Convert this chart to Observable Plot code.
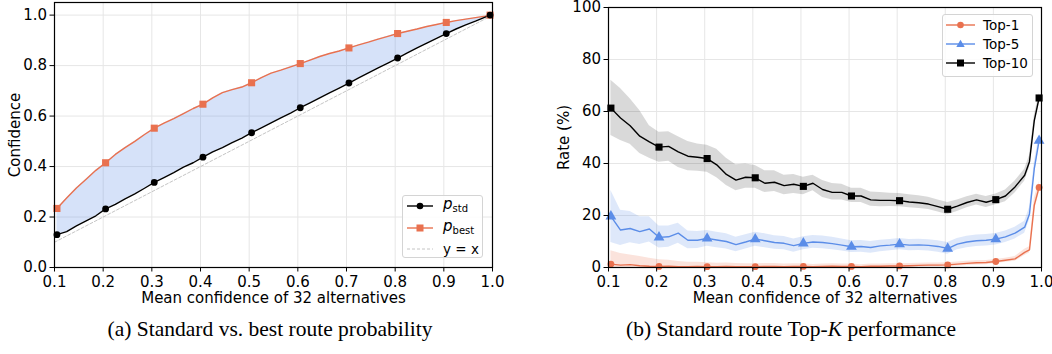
<!DOCTYPE html>
<html><head><meta charset="utf-8">
<script src="https://cdn.jsdelivr.net/npm/d3@7"></script>
<script src="https://cdn.jsdelivr.net/npm/@observablehq/plot@0.6"></script>
<style>
body{margin:0;background:#fff;width:1052px;height:354px;overflow:hidden;font-family:"DejaVu Sans",sans-serif;}
#wrap{position:relative;width:1052px;height:354px;}
#left{position:absolute;left:0;top:0;}
#right{position:absolute;left:526px;top:0;}
.cap{position:absolute;top:317px;font-family:"Liberation Serif","Times New Roman",serif;font-size:21.5px;line-height:24px;color:#000;text-align:center;white-space:nowrap;}
.legend{position:absolute;box-sizing:border-box;background:rgba(255,255,255,0.85);border:1px solid #d4d4d4;border-radius:3px;font-size:13.5px;color:#000;}
.row{position:absolute;height:18px;display:flex;align-items:center;white-space:nowrap;}
.row span{line-height:18px;}
</style></head>
<body>
<div id="wrap">
  <div id="left"></div>
  <div id="right"></div>
  <div class="cap" style="left:0;width:540px;">(a) Standard vs. best route probability</div>
  <div class="cap" style="left:526px;width:530px;">(b) Standard route Top-<i>K</i> performance</div>
</div>
<script>
// ---------- data ----------
const xs = [0.105,0.125,0.145,0.165,0.185,0.205,0.225,0.245,0.265,0.285,0.305,0.325,0.345,0.365,0.385,0.405,0.425,0.445,0.465,0.485,0.505,0.525,0.545,0.565,0.585,0.605,0.625,0.645,0.665,0.685,0.705,0.725,0.745,0.765,0.785,0.805,0.825,0.845,0.865,0.885,0.905,0.925,0.945,0.965,0.975,0.985,0.995];
const markAt = [0.105,0.205,0.305,0.405,0.505,0.605,0.705,0.805,0.905,0.995];

const pStd = [0.130,0.142,0.165,0.185,0.205,0.232,0.250,0.272,0.292,0.314,0.337,0.356,0.376,0.398,0.415,0.437,0.458,0.475,0.495,0.513,0.534,0.553,0.573,0.593,0.612,0.633,0.652,0.672,0.692,0.711,0.731,0.751,0.771,0.791,0.810,0.830,0.850,0.870,0.889,0.908,0.927,0.945,0.961,0.976,0.984,0.992,1.000];
const pBest = [0.234,0.275,0.315,0.350,0.385,0.415,0.448,0.475,0.500,0.527,0.552,0.572,0.590,0.610,0.630,0.647,0.672,0.693,0.705,0.715,0.732,0.752,0.770,0.782,0.795,0.808,0.822,0.836,0.848,0.858,0.870,0.882,0.893,0.905,0.916,0.927,0.936,0.945,0.955,0.963,0.971,0.978,0.984,0.990,0.993,0.996,1.000];
const diag = [0.1, 1.0];

const top10 = [61.3,57.5,54.5,50.5,48.3,46.3,46.6,44.5,42.8,42.4,41.9,39.5,35.8,33.6,34.7,34.5,32.4,32.8,31.5,32.0,31.2,32.4,30.0,28.9,28.9,27.5,27.5,26.0,25.8,25.8,25.7,25.2,24.9,24.4,23.4,22.4,23.6,25.0,26.0,25.1,26.1,27.5,31.0,35.5,40.7,56.5,65.2];
const top10Hi = [72,68.8,64.9,60.4,54.5,52,52.2,50.3,48.5,47.5,47,45.5,42,39.5,39.8,39.2,37.2,37.2,35.5,35.8,34.7,35.5,33.5,32.3,32,30.5,30.5,29,28.8,28.6,28.5,28,27.6,27,26,25,26,27.2,28.2,27.3,28.3,29.8,33.3,37.8,43,58.5,67];
const top10Lo = [50.8,48.8,47.4,43.8,42,40.5,40.9,38.5,37.2,37,36.6,34.5,31.5,29.5,30.5,30.5,28.8,29.2,28,28.5,28,29.5,26.9,26,26,25,25,23.6,23.4,23.5,23.4,23,22.7,22.3,21.3,20.3,21.5,23,24,23.1,24.1,25.3,28.7,33.2,38.4,54.5,63.4];

const top5 = [19.7,14.4,15.0,13.8,14.8,11.6,11.8,13.2,10.5,10.5,11.2,10.6,10.0,8.8,9.8,10.9,10.3,9.6,9.3,8.4,9.3,9.8,9.6,9.2,8.6,8.0,8.1,7.7,8.3,8.6,9.0,8.6,8.7,8.5,8.1,7.3,9.0,9.8,10.3,10.5,10.9,11.8,13.2,15.5,20.6,38,48.8];
const top5Hi = [29.6,22,21.5,19.5,19.5,16,16,17,14,13.8,14.2,13.6,13,11.6,12.6,13.6,13,12.2,11.9,11,11.8,12.3,12.1,11.6,11,10.3,10.4,10,10.5,10.8,11.2,10.8,10.9,10.7,10.3,9.6,11.2,12,12.5,12.7,13.1,14,15.5,17.8,23,40.5,51];
const top5Lo = [9.6,8.5,9.5,8.8,9.8,7.5,7.8,9.3,7.2,7.3,8.2,7.6,7.1,6.1,7.1,8.2,7.6,7.0,6.8,5.9,6.8,7.4,7.2,6.8,6.3,5.8,5.9,5.5,6.1,6.4,6.8,6.4,6.5,6.3,5.9,5.1,6.8,7.6,8.1,8.3,8.7,9.6,11,13.2,18.2,35.5,46.6];

const top1 = [1.3,0.9,1.1,0.7,0.5,0.4,0.5,0.3,0.3,0.4,0.3,0.3,0.4,0.3,0.3,0.3,0.4,0.4,0.3,0.4,0.4,0.3,0.4,0.5,0.4,0.4,0.3,0.5,0.5,0.6,0.6,0.7,0.8,0.9,0.9,1.0,1.3,1.6,1.8,1.9,2.3,2.8,3.3,5.8,6.8,24,30.8];
const top1Hi = [6.4,5.4,4.8,4.2,3.6,3.0,2.8,2.3,2.0,2.0,1.8,1.6,1.7,1.5,1.4,1.4,1.5,1.5,1.3,1.4,1.4,1.2,1.3,1.4,1.3,1.3,1.1,1.3,1.3,1.4,1.4,1.5,1.6,1.7,1.7,1.8,2.1,2.4,2.6,2.7,3.1,3.6,4.2,7.0,8.0,26.5,33];
const top1Lo = [0,0,0,0,0,0,0,0,0,0,0,0,0,0,0,0,0,0,0,0,0,0,0,0,0,0,0,0,0,0,0,0,0.1,0.2,0.2,0.3,0.5,0.8,1.0,1.1,1.5,2.0,2.4,4.6,5.6,21.5,28.6];

const xTicks = [0.1,0.2,0.3,0.4,0.5,0.6,0.7,0.8,0.9,1.0];
const yTicksL = [0,0.2,0.4,0.6,0.8,1.0];
const yTicksR = [0,20,40,60,80,100];
const xLabel = "Mean confidence of 32 alternatives";

// ---------- styles ----------
const ORANGE = "#e9714f", BLUE = "#5b8de8", GRID = "#e6e6e6";

const rowsL = xs.map((x, i) => ({x, std: pStd[i], best: pBest[i]}));
const rowsR = xs.map((x, i) => ({x, t10: top10[i], t10lo: top10Lo[i], t10hi: top10Hi[i],
  t5: top5[i], t5lo: top5Lo[i], t5hi: top5Hi[i], t1: top1[i], t1lo: top1Lo[i], t1hi: top1Hi[i]}));
const isMark = d => markAt.includes(d.x);
const fmt1 = d3.format(".1f");

const common = {
  width: 526, height: 306, marginBottom: 39,
  style: {fontFamily: "'DejaVu Sans', sans-serif", fontSize: "15px", color: "#000", background: "transparent", overflow: "visible"}
};

const left = Plot.plot({
  ...common,
  marginLeft: 54, marginRight: 34, marginTop: 2,
  x: {domain: [0.1, 1.0]},
  y: {domain: [0, 1.05]},
  marks: [
    Plot.gridX(xTicks, {stroke: GRID, strokeOpacity: 1, strokeWidth: 1}),
    Plot.gridY(yTicksL, {stroke: GRID, strokeOpacity: 1, strokeWidth: 1}),
    Plot.areaY(rowsL, {x: "x", y1: "std", y2: "best", fill: BLUE, fillOpacity: 0.25}),
    Plot.line(diag, {x: d => d, y: d => d, stroke: "#bdbdbd", strokeWidth: 0.9, strokeDasharray: "3,2"}),
    Plot.line(rowsL, {x: "x", y: "best", stroke: ORANGE, strokeWidth: 1.4}),
    Plot.line(rowsL, {x: "x", y: "std", stroke: "#000", strokeWidth: 1.4}),
    Plot.dot(rowsL.filter(isMark), {x: "x", y: "best", symbol: "square", r: 4, fill: ORANGE, stroke: "none"}),
    Plot.dot(rowsL.filter(isMark), {x: "x", y: "std", symbol: "circle", r: 3.4, fill: "#000", stroke: "none"}),
    Plot.axisX({ticks: xTicks, tickFormat: fmt1, tickSize: 4.5, tickPadding: 4, label: xLabel, labelAnchor: "center", labelArrow: "none", labelOffset: 35}),
    Plot.axisY({ticks: yTicksL, tickFormat: fmt1, tickSize: 4.5, tickPadding: 3, label: "Confidence", labelAnchor: "center", labelArrow: "none", labelOffset: 45}),
    Plot.frame({stroke: "#000", strokeWidth: 1.2})
  ]
});
document.getElementById("left").append(left);

const right = Plot.plot({
  ...common,
  marginLeft: 82, marginRight: 11, marginTop: 7,
  x: {domain: [0.1, 1.0]},
  y: {domain: [0, 100]},
  marks: [
    Plot.gridX(xTicks, {stroke: GRID, strokeOpacity: 1, strokeWidth: 1}),
    Plot.gridY(yTicksR, {stroke: GRID, strokeOpacity: 1, strokeWidth: 1}),
    Plot.areaY(rowsR, {x: "x", y1: "t10lo", y2: "t10hi", fill: "#000", fillOpacity: 0.15}),
    Plot.areaY(rowsR, {x: "x", y1: "t5lo", y2: "t5hi", fill: BLUE, fillOpacity: 0.2}),
    Plot.areaY(rowsR, {x: "x", y1: "t1lo", y2: "t1hi", fill: ORANGE, fillOpacity: 0.2}),
    Plot.line(rowsR, {x: "x", y: "t1", stroke: ORANGE, strokeWidth: 1.4}),
    Plot.line(rowsR, {x: "x", y: "t5", stroke: BLUE, strokeWidth: 1.4}),
    Plot.line(rowsR, {x: "x", y: "t10", stroke: "#000", strokeWidth: 1.4}),
    Plot.dot(rowsR.filter(isMark), {x: "x", y: "t1", symbol: "circle", r: 3.4, fill: ORANGE, stroke: "none"}),
    Plot.dot(rowsR.filter(isMark), {x: "x", y: "t5", symbol: "triangle", r: 4, fill: BLUE, stroke: "none"}),
    Plot.dot(rowsR.filter(isMark), {x: "x", y: "t10", symbol: "square", r: 4, fill: "#000", stroke: "none"}),
    Plot.axisX({ticks: xTicks, tickFormat: fmt1, tickSize: 4.5, tickPadding: 4, label: xLabel, labelAnchor: "center", labelArrow: "none", labelOffset: 35}),
    Plot.axisY({ticks: yTicksR, tickFormat: d3.format("d"), tickSize: 4.5, tickPadding: 3, label: "Rate (%)", labelAnchor: "center", labelArrow: "none", labelOffset: 50}),
    Plot.frame({stroke: "#000", strokeWidth: 1.2})
  ]
});
document.getElementById("right").append(right);

// ---------- legends ----------
function symbolSvg(color, kind, w) {
  const m = w / 2;
  let mk = "";
  if (kind === "circle") mk = `<circle cx="${m}" cy="9" r="3.3" fill="${color}"/>`;
  else if (kind === "square") mk = `<rect x="${m-3.5}" y="5.5" width="7" height="7" fill="${color}"/>`;
  else if (kind === "triangle") mk = `<path d="M${m},4.8L${m+4.2},12L${m-4.2},12Z" fill="${color}"/>`;
  const dash = kind === "dash" ? ` stroke-dasharray="3,2" stroke-width="0.9"` : ` stroke-width="1.4"`;
  return `<svg width="${w}" height="18" style="display:block"><line x1="0" x2="${w}" y1="9" y2="9" stroke="${color}"${dash}/>${mk}</svg>`;
}
function legend(box, items) {
  const div = document.createElement("div");
  div.className = "legend";
  Object.assign(div.style, {left: box.left + "px", top: box.top + "px", width: box.width + "px", height: box.height + "px"});
  div.innerHTML = items.map(it => `<div class="row" style="left:${box.pad}px;top:${it.cy - 9}px">${symbolSvg(it.color, it.kind, box.lw)}<span style="margin-left:${box.gap}px">${it.label}</span></div>`).join("");
  document.getElementById("wrap").append(div);
}
const pLab = s => `<i style="font-size:15px">p</i><sub style="font-size:10px;vertical-align:-3px">${s}</sub>`;
legend({left: 402, top: 195, width: 81, height: 63, pad: 4, lw: 26, gap: 10}, [
  {cy: 10, color: "#000", kind: "circle", label: pLab("std")},
  {cy: 32, color: ORANGE, kind: "square", label: pLab("best")},
  {cy: 53, color: "#bdbdbd", kind: "dash", label: "y = x"}
]);
legend({left: 942, top: 14, width: 91, height: 63, pad: 3, lw: 29, gap: 8}, [
  {cy: 10, color: ORANGE, kind: "circle", label: "Top-1"},
  {cy: 29, color: BLUE, kind: "triangle", label: "Top-5"},
  {cy: 48, color: "#000", kind: "square", label: "Top-10"}
]);
</script>
</body></html>
